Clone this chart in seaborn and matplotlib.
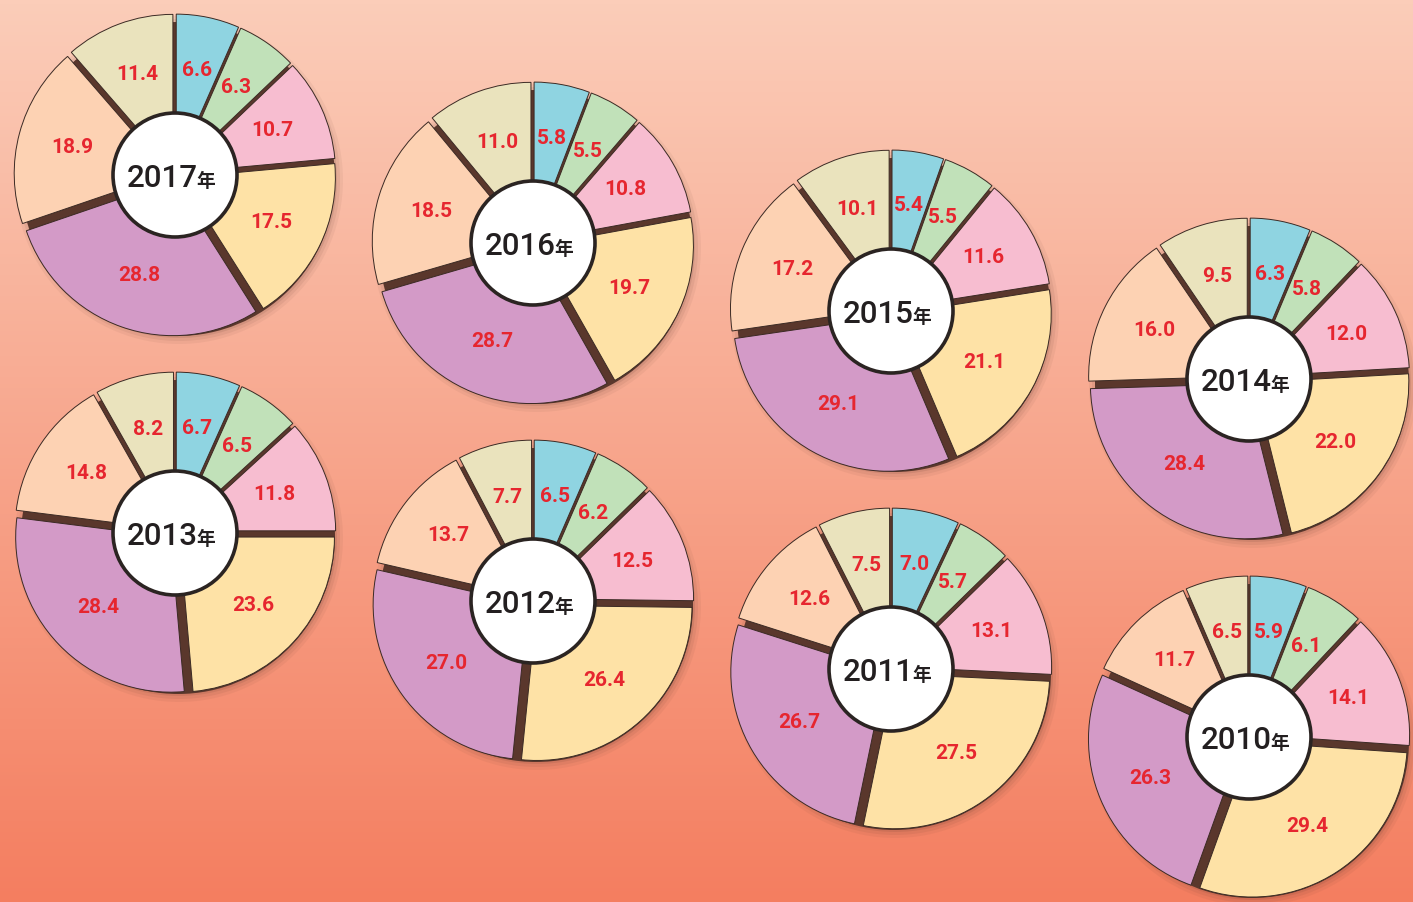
import numpy as np
import matplotlib
matplotlib.use("Agg")
import matplotlib.pyplot as plt
import seaborn as sns
from matplotlib.patches import Circle

# data: share of each category per year (clockwise from 12 o'clock)
years = ["2017", "2016", "2015", "2014", "2013", "2012", "2011", "2010"]
v2017 = [6.6, 6.3, 10.7, 17.5, 28.8, 18.9, 11.4]
v2016 = [5.8, 5.5, 10.8, 19.7, 28.7, 18.5, 11.0]
v2015 = [5.4, 5.5, 11.6, 21.1, 29.1, 17.2, 10.1]
v2014 = [6.3, 5.8, 12.0, 22.0, 28.4, 16.0, 9.5]
v2013 = [6.7, 6.5, 11.8, 23.6, 28.4, 14.8, 8.2]
v2012 = [6.5, 6.2, 12.5, 26.4, 27.0, 13.7, 7.7]
v2011 = [7.0, 5.7, 13.1, 27.5, 26.7, 12.6, 7.5]
v2010 = [5.9, 6.1, 14.1, 29.4, 26.3, 11.7, 6.5]
values = [v2017, v2016, v2015, v2014, v2013, v2012, v2011, v2010]

slice_colors = ["#8fd4e1", "#c1e1b9", "#f7bdd0", "#fee2a6",
                "#d39ac7", "#fdd2b3", "#eae3bd"]

# layout (pixel positions of donut centres, y from top)
W, H = 1413, 902
centers = [(175, 175), (533, 243), (891, 311), (1249, 379),
           (175, 533), (533, 601), (891, 669), (1249, 737)]
R = 155
R_IN = 62
GAP = 6

sns.set_style("white")
plt.rcParams["font.family"] = ["Roboto", "Noto Sans CJK JP", "DejaVu Sans"]

fig = plt.figure(figsize=(W / 100, H / 100), dpi=100)
ax = fig.add_axes([0, 0, 1, 1])

# background gradient
grad = np.linspace(0, 1, 256)[:, None]
top = np.array([251, 205, 185]) / 255
bot = np.array([244, 126, 96]) / 255
img = top[None, None, :] * (1 - grad[..., None]) + bot[None, None, :] * grad[..., None]
ax.imshow(img, extent=[0, W, 0, H], aspect="auto", zorder=0, origin="upper")

pal = sns.color_palette(slice_colors)

for year, vals, (px, py) in zip(years, values, centers):
    cx, cy = px, H - py
    # soft shadow + dark backing that shows through the gaps
    for k, a in [(9, 0.06), (6, 0.08), (3, 0.12)]:
        ax.add_patch(Circle((cx + 4, cy - 5), R + k, facecolor="#5a372c",
                            edgecolor="none", alpha=a, zorder=1))
    ax.add_patch(Circle((cx + 3, cy - 4), R + 2, facecolor="#5a372c",
                        edgecolor="none", zorder=1))
    wedges, _ = ax.pie(vals, colors=pal, startangle=90, counterclock=False,
                       radius=R, center=(cx, cy), explode=[GAP] * len(vals),
                       wedgeprops=dict(edgecolor="#3b2a24", linewidth=0.7))
    for w, v in zip(wedges, vals):
        w.set_zorder(2)
        th = np.deg2rad((w.theta1 + w.theta2) / 2)
        wx, wy = w.center
        ax.text(wx + 0.65 * R * np.cos(th), wy + 0.65 * R * np.sin(th), f"{v:.1f}",
                ha="center", va="center", color="#e6262f", fontsize=15,
                fontweight="bold", zorder=4)
    ax.add_patch(Circle((cx, cy), R_IN, facecolor="white", edgecolor="#2b2422",
                        linewidth=2.6, zorder=3))
    ax.text(cx + 23, cy - 12, year, ha="right", va="baseline", fontsize=22.5,
            fontweight="medium", color="#231f20", zorder=4)
    ax.text(cx + 21, cy - 12, "年", ha="left", va="baseline", fontsize=13.5,
            fontweight="bold", color="#231f20", zorder=4,
            family=["Noto Sans CJK JP", "DejaVu Sans"])

ax.set_xlim(0, W)
ax.set_ylim(0, H)
ax.set_aspect("equal")
ax.axis("off")

fig.savefig("out.png", dpi=100)
